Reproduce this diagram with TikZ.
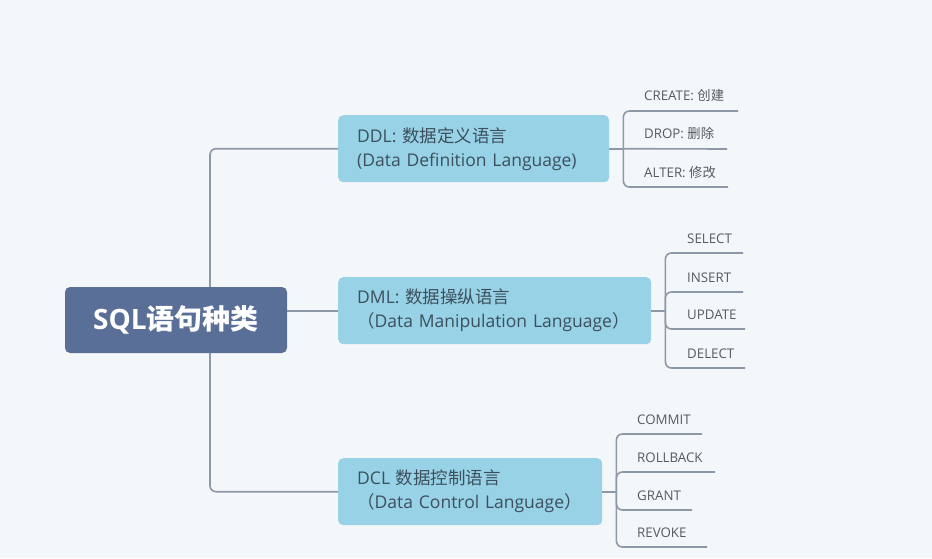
\documentclass[tikz,border=0pt]{standalone}
\usepackage{fontspec}
\setmainfont{Open Sans}
\newfontfamily\cjk{Noto Sans CJK SC}
\definecolor{bgc}{HTML}{F4F7FA}
\definecolor{rootc}{HTML}{5A6F98}
\definecolor{subc}{HTML}{97D2E7}
\definecolor{linec}{HTML}{8D99A6}
\definecolor{subtext}{HTML}{3D4F5C}
\definecolor{leaftext}{HTML}{555B61}
\tikzset{
  rootbox/.style={fill=rootc, rounded corners=5pt, minimum width=222pt, minimum height=66pt,
    inner sep=0pt, text=white, font=\bfseries\fontsize{28}{32}\selectfont},
  subbox/.style={fill=subc, rounded corners=5pt, minimum height=67pt, inner xsep=19pt, inner ysep=0pt,
    align=left, text=subtext, font=\fontsize{17.5}{24}\selectfont, anchor=north west},
  leaf/.style={anchor=base west, inner sep=0pt, text=leaftext, font=\fontsize{13.3}{16}\selectfont},
  conn/.style={draw=linec, line width=1.6pt},
  elbow/.style={conn, rounded corners=6pt}
}
\begin{document}
\begin{tikzpicture}[x=1pt,y=-1pt]
\useasboundingbox (0,0) rectangle (932,558);
\fill[bgc] (0,0) rectangle (932,558);
% main nodes
\node[rootbox] (root) at (176,320) {SQL{\cjk 语句种类}};
\node[subbox, text width=233pt] (ddl) at (338,115) {DDL: {\cjk 数据定义语言}\\(Data Definition Language)};
\node[subbox, text width=275pt] (dml) at (338,277) {DML: {\cjk 数据操纵语言}\\{\cjk （}Data Manipulation Language{\cjk ）}};
\node[subbox, text width=226pt] (dcl) at (338,458) {DCL {\cjk 数据控制语言}\\{\cjk （}Data Control Language{\cjk ）}};
% trunk
\coordinate (trunk) at (210,320);
\draw[elbow] (root.north -| trunk) |- (ddl.west);
\draw[elbow] (root.south -| trunk) |- (dcl.west);
\draw[conn] (dml.west -| root.east) -- (dml.west);
% junctions
\coordinate (ddlj) at ([xshift=14pt]ddl.east);
\coordinate (dmlj) at ([xshift=14pt]dml.east);
\coordinate (dclj) at ([xshift=14pt]dcl.east);
\draw[conn] (ddl.east) -- (ddlj);
\draw[conn] (dml.east) -- (dmlj);
\draw[conn] (dcl.east) -- (dclj);
% DDL leaves
\node[leaf] (create) at (644,100) {CREATE: {\cjk 创建}};
\node[leaf] (drop) at (644,138) {DROP: {\cjk 删除}};
\node[leaf] (alter) at (644,177) {ALTER: {\cjk 修改}};
\coordinate (createe) at (738,111);
\coordinate (drope) at (727,149);
\coordinate (altere) at (728,187);
\draw[elbow] (ddlj) |- (createe);
\draw[conn] (ddlj) -- (drope);
\draw[elbow] (ddlj) |- (altere);
% DML leaves
\node[leaf] (select) at (687,243) {SELECT};
\node[leaf] (insert) at (687,282) {INSERT};
\node[leaf] (update) at (687,319) {UPDATE};
\node[leaf] (delect) at (687,358) {DELECT};
\coordinate (selecte) at (743,253);
\coordinate (inserte) at (743,292);
\coordinate (updatee) at (745,329);
\coordinate (delecte) at (745,368);
\draw[elbow] (dmlj) |- (selecte);
\draw[elbow] (dmlj) |- (inserte);
\draw[elbow] (dmlj) |- (updatee);
\draw[elbow] (dmlj) |- (delecte);
% DCL leaves
\node[leaf] (commit) at (637,424) {COMMIT};
\node[leaf] (rollback) at (637,462) {ROLLBACK};
\node[leaf] (grant) at (637,500) {GRANT};
\node[leaf] (revoke) at (637,537) {REVOKE};
\coordinate (commite) at (702,434);
\coordinate (rollbacke) at (715,472);
\coordinate (grante) at (692,510);
\coordinate (revokee) at (707,547);
\draw[elbow] (dclj) |- (commite);
\draw[elbow] (dclj) |- (rollbacke);
\draw[elbow] (dclj) |- (grante);
\draw[elbow] (dclj) |- (revokee);
\end{tikzpicture}
\end{document}
